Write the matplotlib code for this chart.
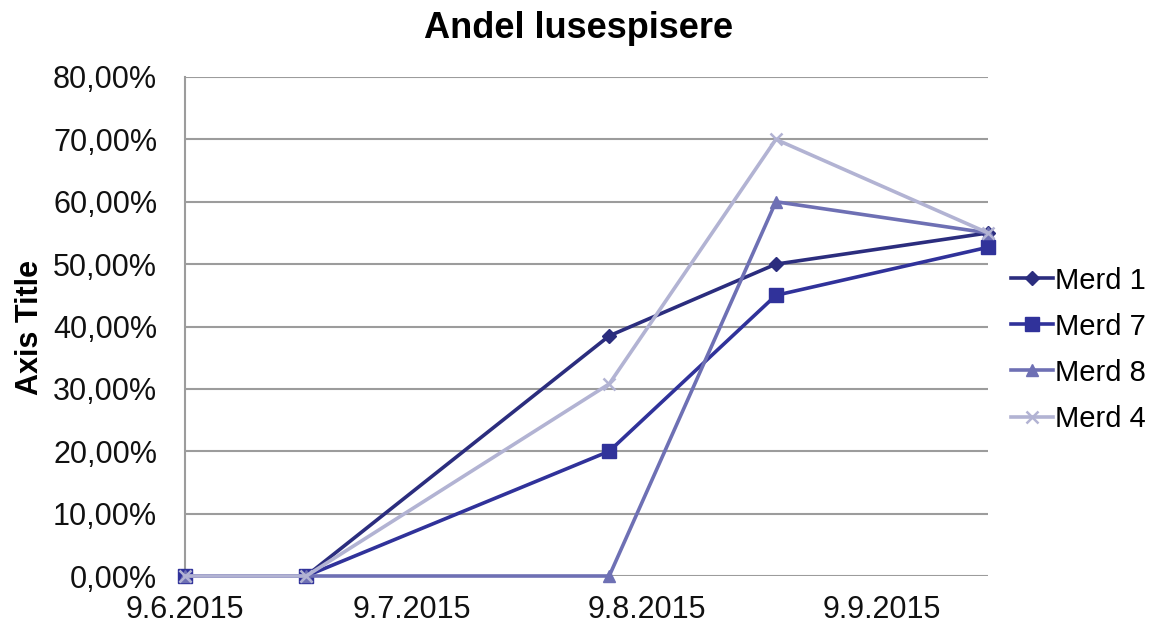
import numpy as np
import matplotlib.pyplot as plt
import matplotlib.dates as mdates
from matplotlib.ticker import FuncFormatter, MultipleLocator
from datetime import datetime

plt.rcParams['font.family'] = ['Liberation Sans', 'DejaVu Sans']

# data
dates = ["2015-06-09", "2015-06-25", "2015-08-04", "2015-08-26", "2015-09-23"]
merd1 = [0.0, 0.0, 0.385, 0.50, 0.55]
merd7 = [0.0, 0.0, 0.20, 0.45, 0.527]
merd8 = [0.0, 0.0, 0.0, 0.60, 0.55]
merd4 = [0.0, 0.0, 0.308, 0.70, 0.55]
series_names = ["Merd 1", "Merd 7", "Merd 8", "Merd 4"]

x = [datetime.strptime(d, "%Y-%m-%d") for d in dates]

fig = plt.figure(figsize=(11.58, 6.3), dpi=100)
ax = fig.add_axes([185/1158, 54/630, 803/1158, 499/630])

ax.plot(x, merd1, color='#2b2d7e', lw=2.6, marker='D', ms=7, label=series_names[0], zorder=3, clip_on=False)
ax.plot(x, merd7, color='#30329a', lw=2.6, marker='s', ms=10, label=series_names[1], zorder=4, clip_on=False)
ax.plot(x, merd8, color='#6e70b4', lw=2.6, marker='^', ms=9, label=series_names[2], zorder=5, clip_on=False)
ax.plot(x, merd4, color='#b2b3d3', lw=2.6, marker='x', ms=9, mew=1.8, label=series_names[3], zorder=6, clip_on=False)

ax.set_xlim(x[0], x[-1])
ax.set_ylim(0, 0.8)
ax.yaxis.set_major_locator(MultipleLocator(0.1))
ax.yaxis.set_major_formatter(FuncFormatter(lambda v, p: f"{v*100:.2f}%".replace('.', ',')))
ax.xaxis.set_major_locator(mdates.MonthLocator(bymonthday=9))
ax.xaxis.set_major_formatter(FuncFormatter(
    lambda v, p: (lambda d: f"{d.day}.{d.month}.{d.year}")(mdates.num2date(v))))

ax.grid(axis='y', color='#9c9c9c', lw=1.5, zorder=0)
ax.set_axisbelow(True)
for s in ['top', 'right', 'bottom']:
    ax.spines[s].set_visible(False)
ax.spines['left'].set_color('#9c9c9c')
ax.spines['left'].set_linewidth(1.5)
ax.tick_params(axis='both', length=0, labelsize=22, colors='#111111')
ax.tick_params(axis='y', pad=20)
ax.tick_params(axis='x', pad=14)

fig.text(0.5, 0.955, "Andel lusespisere", ha='center', va='center',
         fontsize=26, fontweight='bold')
fig.text(0.026, 0.48, "Axis Title", ha='center', va='center', rotation=90,
         fontsize=22, fontweight='bold')

fig.legend(loc='center left', bbox_to_anchor=(0.873, 0.445), frameon=False,
           fontsize=21, handlelength=1.45, handletextpad=0.05, labelspacing=0.62,
           borderpad=0, borderaxespad=0)

fig.savefig("out.png", dpi=100)
